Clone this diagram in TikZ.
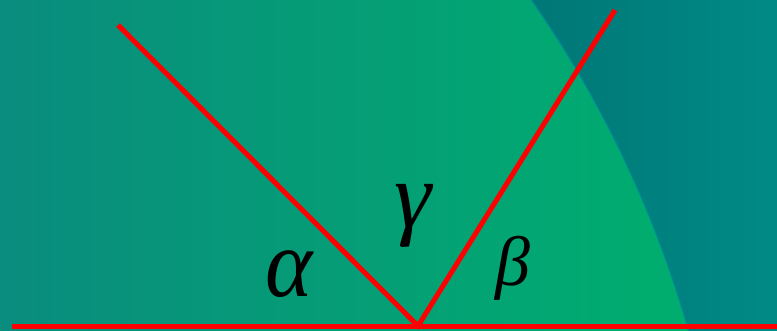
\documentclass[tikz,border=0pt]{standalone}
\usepackage{fontspec}
\setmainfont{Liberation Serif}
\definecolor{bgleft}{RGB}{10,140,126}
\definecolor{bgright}{RGB}{0,174,110}
\definecolor{outleft}{RGB}{0,118,118}
\definecolor{outright}{RGB}{0,138,134}
\definecolor{arcedge}{RGB}{0,140,150}
\definecolor{ray}{RGB}{255,0,0}
\tikzset{
  ray/.style={draw=ray, line width=5pt},
  greek/.style={text=black, inner sep=0pt}
}
\begin{document}
\begin{tikzpicture}[x=1pt,y=-1pt]
\useasboundingbox (0,0) rectangle (777,330);
% outer dark region
\fill[outleft] (0,0) rectangle (777,330);
\shade[left color=outleft, right color=outright] (520,0) rectangle (777,330);
% green disc region
\begin{scope}
\clip (-374,632) circle (1104);
\shade[left color=bgleft, right color=bgright] (0,0) rectangle (690,330);
\end{scope}
\draw[arcedge, line width=1pt] (-374,632) circle (1104);
% rays
\coordinate (P) at (418,326);
\coordinate (L) at (118,25);
\coordinate (R) at (615,10);
\coordinate (H0) at (12,326);
\coordinate (H1) at (777,326);
\draw[ray] (H0) -- (H1);
\draw[ray] (L) -- (P) -- (R);
\node[greek, font=\fontsize{90}{90}\selectfont\itshape, yscale=1.08] (a) at (289,274) {α};
\node[greek, font=\fontsize{94}{94}\selectfont\itshape] (g) at (413,216) {γ};
\node[greek, font=\fontsize{70}{70}\selectfont\itshape] (b) at (513,268) {β};
\end{tikzpicture}
\end{document}
